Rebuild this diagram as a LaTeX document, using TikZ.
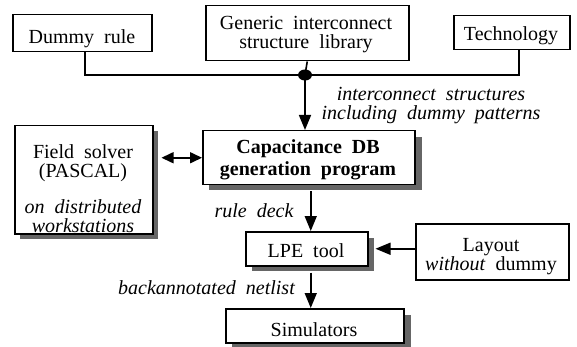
\documentclass[tikz,border=0pt]{standalone}
\usepackage{fontspec}
\setmainfont{Liberation Serif}
\usetikzlibrary{arrows.meta}

\tikzset{
  box/.style={draw, line width=1.5pt, fill=white, inner sep=0pt, anchor=north west},
  dropshadow/.style={fill=black!60, draw=none},
  txt/.style={font=\fontsize{20}{19}\selectfont, align=center, inner sep=0pt},
  itxt/.style={font=\fontsize{20}{19}\selectfont\itshape, align=center, inner sep=0pt},
  btxt/.style={font=\fontsize{20}{22}\selectfont\bfseries, align=center, inner sep=0pt},
  wire/.style={line width=1.6pt},
  flow/.style={line width=1.6pt, -{Triangle[length=15pt,width=12pt]}},
  twoway/.style={line width=1.6pt, {Triangle[length=12pt,width=11pt]}-{Triangle[length=12pt,width=11pt]}},
}

\begin{document}
\begin{tikzpicture}[x=1pt, y=-1pt]
\useasboundingbox (0,0) rectangle (577,347);

% drop shadows of the tool boxes
\fill[dropshadow] (20,131) rectangle (158,239);
\fill[dropshadow] (209,137) rectangle (422,190);
\fill[dropshadow] (252,238) rectangle (374,271);
\fill[dropshadow] (232,315) rectangle (411,347);

% inputs
\node[box, minimum width=139pt, minimum height=37pt] (dummy) at (12,14) {};
\node[txt] (dummytext) at (82,39) {Dummy~ rule};
\node[box, minimum width=203pt, minimum height=55pt] (generic) at (205,5) {};
\node[txt] (generictext) at (306,35) {Generic~ interconnect\\structure~ library};
\node[box, minimum width=116pt, minimum height=34pt] (tech) at (453,15) {};
\node[txt] (techtext) at (511,36) {Technology};

% tools
\node[box, minimum width=138pt, minimum height=108pt] (field) at (14,125) {};
\node[txt] (fieldtop) at (83,163) {Field~ solver\\(PASCAL)};
\node[itxt] (fieldbot) at (83,216) {on~ distributed\\workstations};

\node[box, minimum width=212pt, minimum height=54pt] (cap) at (202,130) {};
\node[btxt] (captext) at (308,160) {Capacitance~ DB\\generation~ program};

\node[box, minimum width=122pt, minimum height=34pt] (lpe) at (245,231) {};
\node[txt] (lpetext) at (306,251) {LPE~ tool};

\node[box, minimum width=153pt, minimum height=56pt] (layout) at (415,223) {};
\node[txt] (layouttext) at (491,257) {Layout\\\textit{without}~ dummy};

\node[box, minimum width=178pt, minimum height=34pt] (sim) at (225,308) {};
\node[txt] (simtext) at (314,330) {Simulators};

% merging the three inputs
\coordinate (join) at (305,75);
\coordinate (dummydrop) at (85,75);
\coordinate (techdrop) at (519,75);
\draw[wire] (dummydrop |- dummy.south) -- (dummydrop) -- (techdrop) -- (techdrop |- tech.south);
\draw[wire] (generic.south) -- (join);
\fill (join) ellipse (7pt and 5.5pt);
\draw[flow] (join) -- (join |- cap.north);
\node[itxt] (structlabel) at (431,106) {interconnect~ structures\\including~ dummy~ patterns};

% solver link
\draw[twoway, shorten >=8pt] (cap.west) -- (cap.west -| field.east);

% rule deck
\coordinate (capout) at ([xshift=2pt]cap.south);
\draw[flow, shorten <=6pt] (capout) -- (capout |- lpe.north);
\node[itxt] (rulelabel) at (254,211) {rule~ deck};

% layout into extractor
\draw[flow, shorten >=7pt] (layout.west |- lpe.east) -- (lpe.east);

% netlist
\coordinate (lpeout) at ([xshift=4pt]lpe.south);
\draw[flow, shorten <=6pt] (lpeout) -- (lpeout |- sim.north);
\node[itxt, anchor=east] (netlabel) at (295,288) {backannotated~ netlist};
\end{tikzpicture}
\end{document}
